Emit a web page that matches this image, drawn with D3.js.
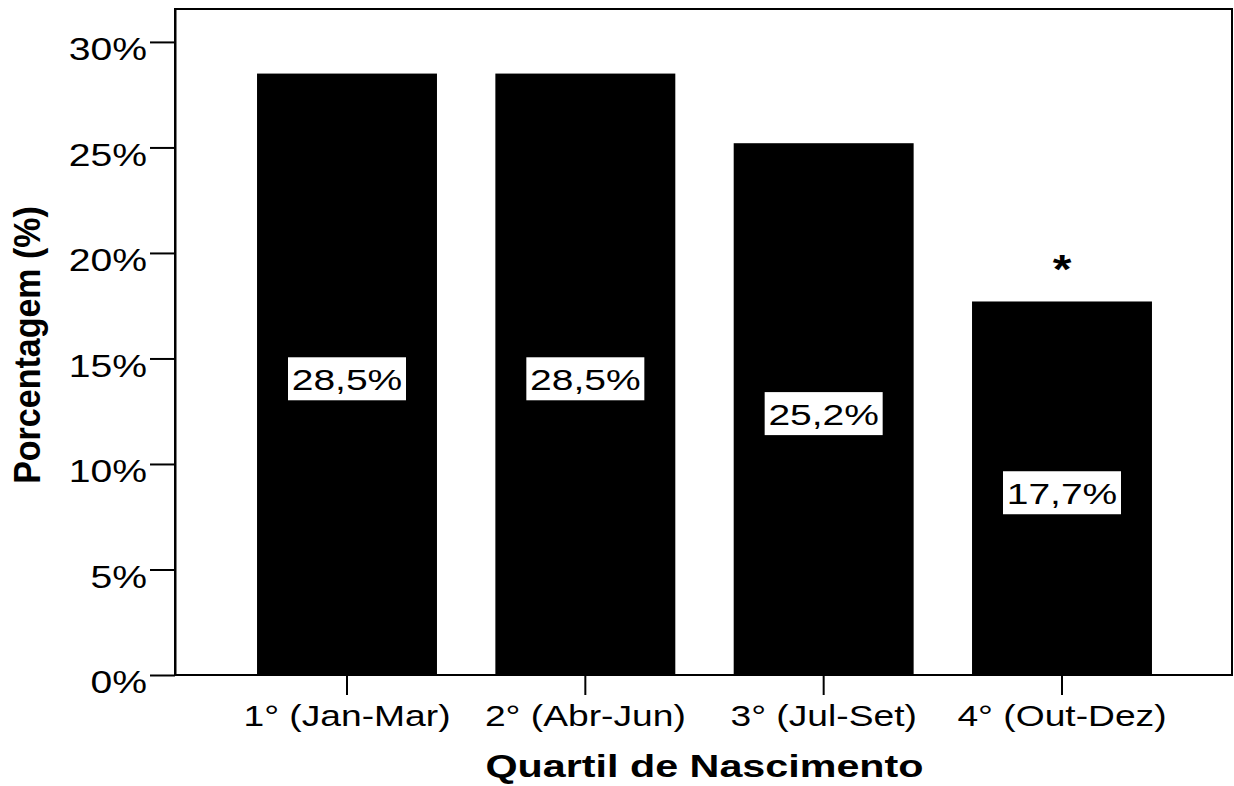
<!DOCTYPE html>
<html>
<head>
<meta charset="utf-8">
<script src="https://cdn.jsdelivr.net/npm/d3@7"></script>
<style>
  body { margin: 0; background: #fff; }
  text { font-family: Arial, "Liberation Sans", sans-serif; fill: #000; }
</style>
</head>
<body>
<div id="chart"></div>
<script>
// Chart values
var quartiles = ["1° (Jan-Mar)", "2° (Abr-Jun)", "3° (Jul-Set)", "4° (Out-Dez)"];
var percentages = [28.5, 28.5, 25.2, 17.7];
var starred = [false, false, false, true];
var yTicks = [0, 5, 10, 15, 20, 25, 30];

// Standard margin praxis
var width = 1234, height = 786;
var plot = {left: 175, top: 9, right: 1232, bottom: 675};
var stretch = 1.3; // the original's text is a bit wide

var svg = d3.select("#chart")
	.append("svg")
	.attr("width", width)
	.attr("height", height);

// Scales
var x = d3.scaleBand()
	.domain(quartiles)
	.range([plot.left + 1, plot.right + 1])
	.paddingInner(0.245)
	.paddingOuter(0.34);

var y = d3.scaleLinear()
	.domain([0, 31.56])
	.range([plot.bottom, plot.top]);

// Portuguese style numbers: 28,5%
var ptLocale = d3.formatLocale({decimal: ",", thousands: ".", grouping: [3], currency: ["R$", ""]});
var fmtValue = ptLocale.format(".1f");

// Bars
svg.selectAll(".bar")
	.data(percentages)
	.enter()
	.append("rect")
	.attr("class", "bar")
	.attr("x", function(d, i){ return x(quartiles[i]); })
	.attr("y", function(d){ return y(d); })
	.attr("width", x.bandwidth())
	.attr("height", function(d){ return y(0) - y(d); })
	.attr("fill", "#000");

// Frame round the plot
svg.append("rect")
	.attr("x", plot.left)
	.attr("y", plot.top)
	.attr("width", plot.right - plot.left)
	.attr("height", plot.bottom - plot.top)
	.attr("fill", "none")
	.attr("stroke", "#000")
	.attr("stroke-width", 2);

// Y axis
var yAxis = svg.append("g")
	.attr("class", "yAxis")
	.attr("transform", "translate(" + plot.left + ",0)")
	.call(d3.axisLeft(y)
		.tickValues(yTicks)
		.tickSize(25)
		.tickSizeOuter(0)
		.tickFormat(function(d){ return d + "%"; }));
yAxis.select(".domain").attr("stroke-width", 2);
yAxis.selectAll(".tick line").attr("stroke-width", 2);
yAxis.selectAll(".tick text")
	.attr("x", 0)
	.attr("dy", "0.55em")
	.attr("transform", "translate(-28,0) scale(" + (stretch * 0.94) + ",1)")
	.style("font-size", "32px")
	.style("fill", "#000");

// X axis
var xAxis = svg.append("g")
	.attr("class", "xAxis")
	.attr("transform", "translate(0," + plot.bottom + ")")
	.call(d3.axisBottom(x)
		.tickSize(20)
		.tickSizeOuter(0));
xAxis.select(".domain").remove();
xAxis.selectAll(".tick line").attr("stroke-width", 2);
xAxis.selectAll(".tick text")
	.attr("y", 0)
	.attr("dy", 0)
	.attr("transform", "translate(0,51) scale(1.24,1)")
	.style("font-size", "30px")
	.style("fill", "#000");

// Value labels in white boxes
var labels = svg.selectAll(".value-label")
	.data(percentages)
	.enter()
	.append("g")
	.attr("class", "value-label")
	.attr("transform", function(d, i){
		return "translate(" + (x(quartiles[i]) + x.bandwidth() / 2) + "," + ((y(d) + y(0)) / 2 + 4.5) + ")";
	});

labels.append("rect")
	.attr("x", -59)
	.attr("y", -21.5)
	.attr("width", 118)
	.attr("height", 43)
	.attr("fill", "#fff");

labels.append("text")
	.attr("text-anchor", "middle")
	.attr("transform", "translate(0,11.5) scale(" + stretch + ",1)")
	.style("font-size", "30px")
	.text(function(d){ return fmtValue(d) + "%"; });

// Significance mark
svg.selectAll(".star")
	.data(percentages)
	.enter()
	.filter(function(d, i){ return starred[i]; })
	.append("text")
	.attr("class", "star")
	.attr("text-anchor", "middle")
	.attr("transform", function(d){
		var i = percentages.indexOf(d);
		return "translate(" + (x(quartiles[i]) + x.bandwidth() / 2) + "," + (y(d) - 18) + ") scale(1.2,1)";
	})
	.style("font-size", "40px")
	.style("font-weight", "bold")
	.text("*");

// Axis titles
svg.append("text")
	.attr("text-anchor", "middle")
	.attr("transform", "translate(" + ((plot.left + plot.right) / 2 + 1) + ",777) scale(1.29,1)")
	.style("font-size", "32px")
	.style("font-weight", "bold")
	.text("Quartil de Nascimento");

svg.append("text")
	.attr("text-anchor", "middle")
	.attr("transform", "translate(40,345) rotate(-90) scale(1,1.08)")
	.style("font-size", "34px")
	.style("font-weight", "bold")
	.text("Porcentagem (%)");
</script>
</body>
</html>
